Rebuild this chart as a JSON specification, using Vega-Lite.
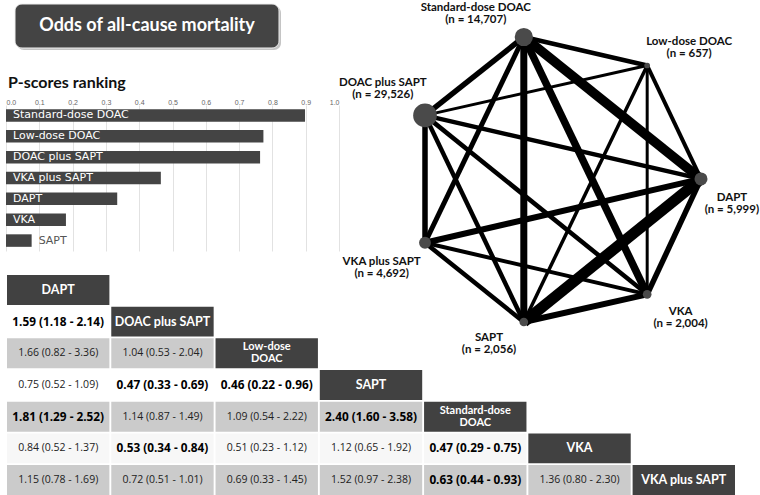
{
  "$schema": "https://vega.github.io/schema/vega-lite/v6.json",
  "width": 760,
  "height": 495,
  "autosize": {"type": "none"},
  "padding": 0,
  "background": "white",
  "config": {"view": {"stroke": null}},
  "datasets": {
    "pscores": [
      {"t": "Standard-dose DOAC", "p": 0.898},
      {"t": "Low-dose DOAC", "p": 0.773},
      {"t": "DOAC plus SAPT", "p": 0.763},
      {"t": "VKA plus SAPT", "p": 0.465},
      {"t": "DAPT", "p": 0.334},
      {"t": "VKA", "p": 0.18},
      {"t": "SAPT", "p": 0.077}
    ],
    "nodes": [
      {"id": "std", "label": "Standard-dose DOAC\n(n = 14,707)", "n": 14707, "x": 0.358, "y": 0.0, "lx": 0.184, "ly": -0.08},
      {"id": "low", "label": "Low-dose DOAC\n(n = 657)", "n": 657, "x": 0.805, "y": 0.1, "lx": 0.957, "ly": 0.04},
      {"id": "dsapt", "label": "DOAC plus SAPT\n(n = 29,526)", "n": 29526, "x": 0.0, "y": 0.275, "lx": -0.153, "ly": 0.183},
      {"id": "dapt", "label": "DAPT\n(n = 5,999)", "n": 5999, "x": 1.0, "y": 0.498, "lx": 1.112, "ly": 0.585},
      {"id": "vsapt", "label": "VKA plus SAPT\n(n = 4,692)", "n": 4692, "x": 0.0, "y": 0.722, "lx": -0.157, "ly": 0.809},
      {"id": "vka", "label": "VKA\n(n = 2,004)", "n": 2004, "x": 0.805, "y": 0.903, "lx": 0.926, "ly": 0.987},
      {"id": "sapt", "label": "SAPT\n(n = 2,056)", "n": 2056, "x": 0.358, "y": 1.0, "lx": 0.232, "ly": 1.077}
    ],
    "edges": [
      {"a": "std", "b": "low", "w": 4.5},
      {"a": "std", "b": "dsapt", "w": 5.5},
      {"a": "std", "b": "vsapt", "w": 5},
      {"a": "std", "b": "sapt", "w": 7},
      {"a": "std", "b": "vka", "w": 7.5},
      {"a": "std", "b": "dapt", "w": 9.5},
      {"a": "low", "b": "dsapt", "w": 3},
      {"a": "low", "b": "sapt", "w": 3.5},
      {"a": "low", "b": "vka", "w": 3},
      {"a": "low", "b": "dapt", "w": 4},
      {"a": "dsapt", "b": "dapt", "w": 4.5},
      {"a": "dsapt", "b": "vsapt", "w": 5.5},
      {"a": "dsapt", "b": "sapt", "w": 4.5},
      {"a": "dsapt", "b": "vka", "w": 4.5},
      {"a": "dapt", "b": "vsapt", "w": 6},
      {"a": "dapt", "b": "sapt", "w": 11},
      {"a": "dapt", "b": "vka", "w": 5.5},
      {"a": "vsapt", "b": "sapt", "w": 4.5},
      {"a": "vsapt", "b": "vka", "w": 4},
      {"a": "sapt", "b": "vka", "w": 6}
    ],
    "table": [
      {"row": 1, "col": 1, "text": "DAPT", "header": true, "bold": true},
      {"row": 2, "col": 2, "text": "DOAC plus SAPT", "header": true, "bold": true},
      {"row": 3, "col": 3, "text": "Low-dose\nDOAC", "header": true, "bold": true},
      {"row": 4, "col": 4, "text": "SAPT", "header": true, "bold": true},
      {"row": 5, "col": 5, "text": "Standard-dose\nDOAC", "header": true, "bold": true},
      {"row": 6, "col": 6, "text": "VKA", "header": true, "bold": true},
      {"row": 7, "col": 7, "text": "VKA plus SAPT", "header": true, "bold": true},
      {"row": 2, "col": 1, "text": "1.59 (1.18 - 2.14)", "header": false, "bold": true},
      {"row": 3, "col": 1, "text": "1.66 (0.82 - 3.36)", "header": false, "bold": false},
      {"row": 3, "col": 2, "text": "1.04 (0.53 - 2.04)", "header": false, "bold": false},
      {"row": 4, "col": 1, "text": "0.75 (0.52 - 1.09)", "header": false, "bold": false},
      {"row": 4, "col": 2, "text": "0.47 (0.33 - 0.69)", "header": false, "bold": true},
      {"row": 4, "col": 3, "text": "0.46 (0.22 - 0.96)", "header": false, "bold": true},
      {"row": 5, "col": 1, "text": "1.81 (1.29 - 2.52)", "header": false, "bold": true},
      {"row": 5, "col": 2, "text": "1.14 (0.87 - 1.49)", "header": false, "bold": false},
      {"row": 5, "col": 3, "text": "1.09 (0.54 - 2.22)", "header": false, "bold": false},
      {"row": 5, "col": 4, "text": "2.40 (1.60 - 3.58)", "header": false, "bold": true},
      {"row": 6, "col": 1, "text": "0.84 (0.52 - 1.37)", "header": false, "bold": false},
      {"row": 6, "col": 2, "text": "0.53 (0.34 - 0.84)", "header": false, "bold": true},
      {"row": 6, "col": 3, "text": "0.51 (0.23 - 1.12)", "header": false, "bold": false},
      {"row": 6, "col": 4, "text": "1.12 (0.65 - 1.92)", "header": false, "bold": false},
      {"row": 6, "col": 5, "text": "0.47 (0.29 - 0.75)", "header": false, "bold": true},
      {"row": 7, "col": 1, "text": "1.15 (0.78 - 1.69)", "header": false, "bold": false},
      {"row": 7, "col": 2, "text": "0.72 (0.51 - 1.01)", "header": false, "bold": false},
      {"row": 7, "col": 3, "text": "0.69 (0.33 - 1.45)", "header": false, "bold": false},
      {"row": 7, "col": 4, "text": "1.52 (0.97 - 2.38)", "header": false, "bold": false},
      {"row": 7, "col": 5, "text": "0.63 (0.44 - 0.93)", "header": false, "bold": true},
      {"row": 7, "col": 6, "text": "1.36 (0.80 - 2.30)", "header": false, "bold": false}
    ]
  },
  "layer": [
    {
      "data": {"values": [{"t": "Odds of all-cause mortality"}]},
      "layer": [
        {"mark": {"type": "rect", "color": "#b5b5b5", "cornerRadius": 7, "opacity": 0.8},
         "encoding": {"x": {"value": 17}, "x2": {"value": 281}, "y": {"value": 6}, "y2": {"value": 50}}},
        {"mark": {"type": "rect", "color": "#444444", "cornerRadius": 7, "stroke": "#eeeeee", "strokeWidth": 1},
         "encoding": {"x": {"value": 15}, "x2": {"value": 279}, "y": {"value": 4}, "y2": {"value": 48}}},
        {"mark": {"type": "text", "color": "white", "font": "Lato", "fontWeight": "bold", "fontSize": 18, "align": "center", "baseline": "middle"},
         "encoding": {"x": {"value": 147}, "y": {"value": 26}, "text": {"field": "t"}}}
      ]
    },
    {
      "data": {"values": [{"t": "P-scores ranking"}]},
      "mark": {"type": "text", "color": "#111111", "font": "Lato", "fontWeight": "bold", "fontSize": 16, "align": "left", "baseline": "middle"},
      "encoding": {"x": {"value": 8}, "y": {"value": 83}, "text": {"field": "t"}}
    },
    {
      "data": {"name": "pscores"},
      "encoding": {
        "y": {"field": "t", "type": "nominal", "sort": null, "axis": null,
              "scale": {"range": [105, 251], "paddingInner": 0.4, "paddingOuter": 0.2}}
      },
      "layer": [
        {"mark": {"type": "bar", "color": "#444444"},
         "encoding": {"x": {"field": "p", "type": "quantitative",
           "scale": {"domain": [0, 1], "range": [6, 339], "nice": false, "zero": true},
           "axis": {"orient": "top", "values": [0, 0.1, 0.2, 0.3, 0.4, 0.5, 0.6, 0.7, 0.8, 0.9, 1.0], "format": ".1f",
                    "offset": -106, "domain": false, "ticks": false, "labelFontSize": 7, "labelColor": "#666666",
                    "labelFont": "Liberation Sans", "labelPadding": 1, "grid": true, "gridColor": "#e2e2e2", "title": null}}}},
        {"transform": [{"filter": "datum.p > 0.1"}],
         "mark": {"type": "text", "align": "left", "baseline": "middle", "dx": 7, "color": "white", "fontSize": 11, "font": "DejaVu Sans"},
         "encoding": {"x": {"datum": 0, "type": "quantitative"}, "text": {"field": "t"}}},
        {"transform": [{"filter": "datum.p <= 0.1"}],
         "mark": {"type": "text", "align": "left", "baseline": "middle", "dx": 7, "color": "#555555", "fontSize": 11, "font": "DejaVu Sans"},
         "encoding": {"x": {"field": "p", "type": "quantitative"}, "text": {"field": "t"}}}
      ]
    },
    {
      "layer": [
        {"data": {"name": "edges"},
         "transform": [
           {"lookup": "a", "from": {"data": {"name": "nodes"}, "key": "id", "fields": ["x", "y"]}, "as": ["ax", "ay"]},
           {"lookup": "b", "from": {"data": {"name": "nodes"}, "key": "id", "fields": ["x", "y"]}, "as": ["bx", "by"]}
         ],
         "mark": {"type": "rule", "color": "#000000"},
         "encoding": {
           "x": {"field": "ax", "type": "quantitative", "axis": null, "scale": {"domain": [0, 1], "range": [425, 701], "nice": false, "zero": false}},
           "y": {"field": "ay", "type": "quantitative", "axis": null, "scale": {"domain": [0, 1], "range": [37, 322], "nice": false, "zero": false}},
           "x2": {"field": "bx"},
           "y2": {"field": "by"},
           "strokeWidth": {"field": "w", "type": "quantitative", "scale": null}
         }},
        {"data": {"name": "nodes"},
         "mark": {"type": "circle", "color": "#4a4a4a", "opacity": 1},
         "encoding": {
           "x": {"field": "x", "type": "quantitative"},
           "y": {"field": "y", "type": "quantitative"},
           "size": {"field": "n", "type": "quantitative", "legend": null,
                    "scale": {"type": "pow", "exponent": 0.75, "domain": [0, 29526], "range": [0, 560]}}
         }},
        {"data": {"name": "nodes"},
         "mark": {"type": "text", "font": "Lato", "fontWeight": "bold", "fontSize": 11.5, "lineBreak": "\n", "lineHeight": 12, "dy": -6, "align": "center", "baseline": "middle", "color": "#111111"},
         "encoding": {
           "x": {"field": "lx", "type": "quantitative"},
           "y": {"field": "ly", "type": "quantitative"},
           "text": {"field": "label"}
         }}
      ]
    },
    {
      "data": {"name": "table"},
      "encoding": {
        "x": {"field": "col", "type": "ordinal", "axis": null,
              "scale": {"domain": [1, 2, 3, 4, 5, 6, 7], "range": [7, 735], "paddingInner": 0.018, "paddingOuter": 0}},
        "y": {"field": "row", "type": "ordinal", "axis": null,
              "scale": {"domain": [1, 2, 3, 4, 5, 6, 7], "range": [275, 495], "paddingInner": 0.055, "paddingOuter": 0}}
      },
      "layer": [
        {"transform": [{"filter": "datum.header"}],
         "mark": {"type": "rect", "color": "#414141"}},
        {"transform": [{"filter": "!datum.header"}],
         "mark": {"type": "rect"},
         "encoding": {"color": {"field": "row", "type": "ordinal", "legend": null,
           "scale": {"domain": [2, 3, 4, 5, 6, 7], "range": ["#ffffff", "#cbcbcb", "#ffffff", "#cbcbcb", "#f7f7f7", "#cbcbcb"]}}}},
        {"transform": [{"filter": "datum.header && indexof(datum.text, '\\n') < 0"}],
         "mark": {"type": "text", "color": "white", "font": "Lato", "fontWeight": "bold", "fontSize": 12.5, "align": "center", "baseline": "middle"},
         "encoding": {"text": {"field": "text"}}},
        {"transform": [{"filter": "datum.header && indexof(datum.text, '\\n') >= 0"}],
         "mark": {"type": "text", "color": "white", "font": "Lato", "fontWeight": "bold", "fontSize": 11, "lineBreak": "\n", "lineHeight": 12, "dy": -6, "align": "center", "baseline": "middle"},
         "encoding": {"text": {"field": "text"}}},
        {"transform": [{"filter": "!datum.header && !datum.bold"}],
         "mark": {"type": "text", "color": "#222222", "font": "Open Sans", "fontSize": 10.5, "align": "center", "baseline": "middle"},
         "encoding": {"text": {"field": "text"}}},
        {"transform": [{"filter": "!datum.header && datum.bold"}],
         "mark": {"type": "text", "color": "#000000", "font": "Open Sans", "fontWeight": "bold", "fontSize": 11.8, "align": "center", "baseline": "middle"},
         "encoding": {"text": {"field": "text"}}}
      ]
    }
  ],
  "resolve": {
    "scale": {"x": "independent", "y": "independent", "color": "independent", "size": "independent", "strokeWidth": "independent"},
    "axis": {"x": "independent", "y": "independent"}
  }
}
